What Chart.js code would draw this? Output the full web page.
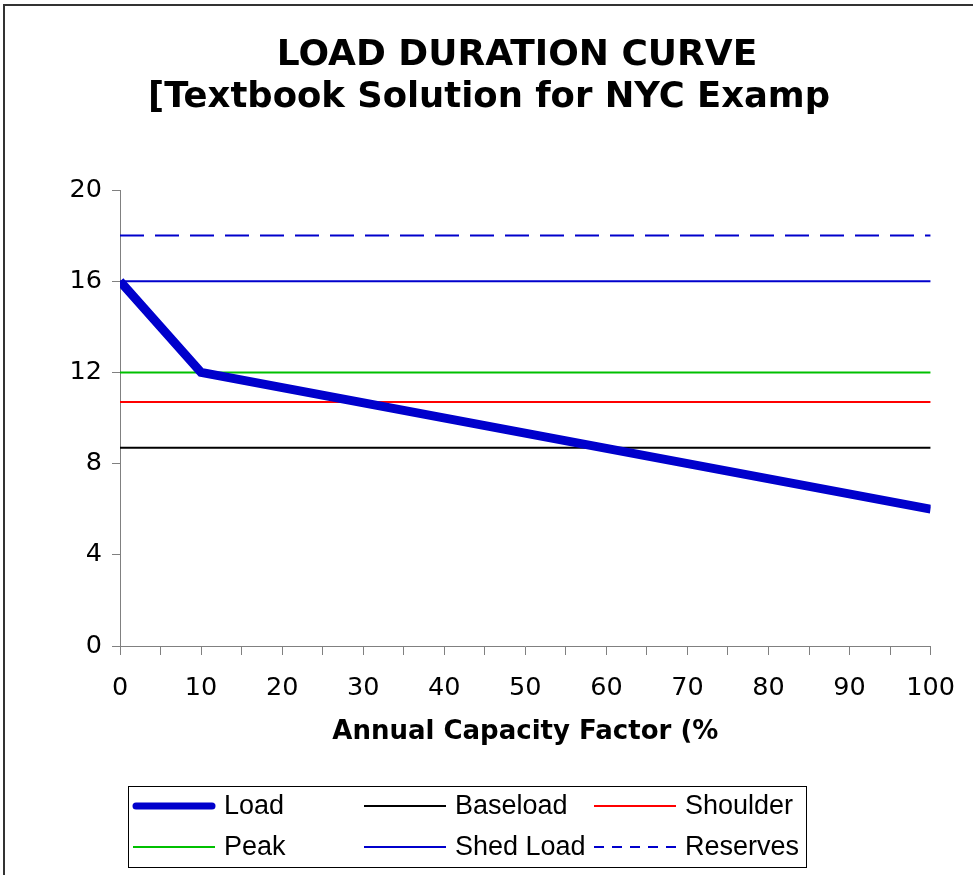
<!DOCTYPE html>
<html>
<head>
<meta charset="utf-8">
<title>Load Duration Curve</title>
<script src="https://cdn.jsdelivr.net/npm/chart.js@4.4.1/dist/chart.umd.min.js"></script>
<style>
    html, body { margin: 0; padding: 0; background: #fff; }
    #wrap { width: 973px; height: 875px; position: relative; }
</style>
</head>
<body>
<div id="wrap"><canvas id="ldc" width="973" height="875"></canvas></div>
<script>
// data
const loadX = [0, 10, 100];
const loadY = [16, 12, 6];
const flatX = [0, 100];
const baseload = [8.7, 8.7];
const shoulder = [10.7, 10.7];
const peak = [12, 12];
const shedLoad = [16, 16];
const reserves = [18, 18];
const yTicks = [0, 4, 8, 12, 16, 20];
const titleLines = ['LOAD DURATION CURVE', '[Textbook Solution for NYC Examp'];
const xTitle = 'Annual Capacity Factor (%';

const LOAD_WIDTH = 9;

const toPoints = (xs, ys) => xs.map((x, i) => ({ x: x, y: ys[i] }));

function lineSet(label, xs, ys, color, width, dash) {
    return {
        label: label,
        data: toPoints(xs, ys),
        borderColor: color,
        backgroundColor: color,
        borderWidth: width,
        borderDash: dash || [],
        pointRadius: 0,
        fill: false,
        tension: 0
    };
}

// title, legend box and page border drawn by hand
const decor = {
    id: 'decor',
    afterDraw(chart) {
        const ctx = chart.ctx;
        ctx.save();

        // outer frame (left + top only, rest is cropped)
        ctx.strokeStyle = '#333';
        ctx.lineWidth = 2;
        ctx.beginPath();
        ctx.moveTo(4, 875);
        ctx.lineTo(4, 5);
        ctx.lineTo(973, 5);
        ctx.stroke();

        // title
        ctx.fillStyle = '#000';
        ctx.font = 'bold 36px "DejaVu Sans"';
        ctx.textBaseline = 'alphabetic';
        ctx.textAlign = 'center';
        ctx.fillText(titleLines[0], 517, 65);
        ctx.textAlign = 'left';
        ctx.font = 'bold 35.4px "DejaVu Sans"';
        ctx.fillText(titleLines[1], 148, 107);

        // legend
        ctx.strokeStyle = '#000';
        ctx.lineWidth = 1;
        ctx.strokeRect(128.5, 786.5, 678, 81);
        const cols = [133, 364, 594];
        const rows = [806, 847];
        ctx.font = '27px "Liberation Sans"';
        ctx.textBaseline = 'middle';
        ctx.textAlign = 'left';
        chart.data.datasets.forEach((ds, i) => {
            const x = cols[i % 3];
            const y = rows[Math.floor(i / 3)];
            const thick = ds.borderWidth === LOAD_WIDTH;
            ctx.beginPath();
            ctx.strokeStyle = ds.borderColor;
            ctx.lineWidth = thick ? 7 : ds.borderWidth;
            ctx.lineCap = thick ? 'round' : 'butt';
            ctx.setLineDash(ds.borderDash.length ? [10, 8] : []);
            ctx.moveTo(x + (thick ? 3 : 0), y);
            ctx.lineTo(x + 82 - (thick ? 3 : 0), y);
            ctx.stroke();
            ctx.setLineDash([]);
            ctx.fillStyle = '#000';
            ctx.fillText(ds.label, x + 91, y + 1);
        });
        ctx.restore();
    }
};

document.addEventListener('DOMContentLoaded', () => {
    const canvas = document.getElementById('ldc');
    new Chart(canvas.getContext('2d'), {
        type: 'line',
        data: {
            datasets: [
                lineSet('Load', loadX, loadY, '#0000CC', LOAD_WIDTH),
                lineSet('Baseload', flatX, baseload, '#000000', 2),
                lineSet('Shoulder', flatX, shoulder, '#FF0000', 2),
                lineSet('Peak', flatX, peak, '#00C000', 2),
                lineSet('Shed Load', flatX, shedLoad, '#0000CC', 2),
                lineSet('Reserves', flatX, reserves, '#0000CC', 2, [24, 11])
            ]
        },
        options: {
            responsive: false,
            animation: false,
            maintainAspectRatio: false,
            layout: {
                padding: { left: 0, top: 190, right: 41, bottom: 129 }
            },
            plugins: {
                legend: { display: false },
                title: { display: false },
                tooltip: { enabled: false }
            },
            scales: {
                x: {
                    type: 'linear',
                    min: 0,
                    max: 100,
                    afterFit(scale) { scale.height = 100; },
                    ticks: {
                        stepSize: 5,
                        maxRotation: 0,
                        autoSkip: false,
                        padding: 18,
                        color: '#000',
                        font: { family: 'DejaVu Sans', size: 25.5 },
                        callback: (v) => (v % 10 === 0 ? String(v) : '')
                    },
                    grid: {
                        drawOnChartArea: false,
                        drawTicks: true,
                        tickLength: 9,
                        color: '#808080'
                    },
                    border: { display: true, color: '#808080', width: 1 },
                    title: {
                        display: true,
                        text: xTitle,
                        color: '#000',
                        font: { family: 'DejaVu Sans', size: 26, weight: 'bold' },
                        padding: { top: 0, bottom: -2 }
                    }
                },
                y: {
                    type: 'linear',
                    min: 0,
                    max: 20,
                    afterFit(scale) { scale.width = 120; },
                    afterBuildTicks(scale) {
                        scale.ticks = yTicks.map(v => ({ value: v }));
                    },
                    ticks: {
                        padding: 10,
                        color: '#000',
                        font: { family: 'DejaVu Sans', size: 25.5 }
                    },
                    grid: {
                        drawOnChartArea: false,
                        drawTicks: true,
                        tickLength: 8,
                        color: '#808080'
                    },
                    border: { display: true, color: '#808080', width: 1 }
                }
            }
        },
        plugins: [decor]
    });
});
</script>
</body>
</html>
